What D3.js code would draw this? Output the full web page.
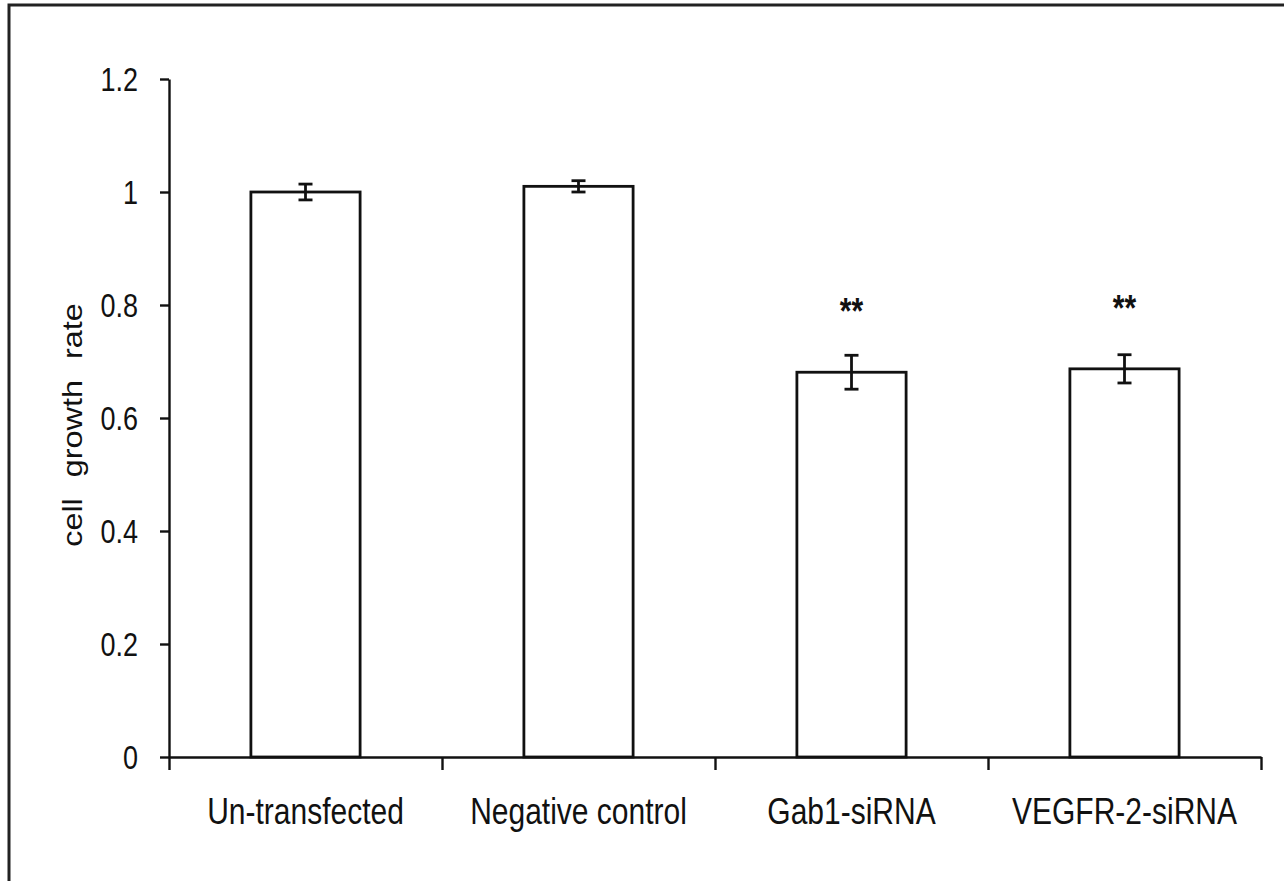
<!DOCTYPE html>
<html>
<head>
<meta charset="utf-8">
<script src="https://cdn.jsdelivr.net/npm/d3@7"></script>
<style>
  body { margin: 0; background: #fff; }
  svg { display: block; }
  text { font-family: "Liberation Sans", Arial, sans-serif; fill: #111; }
</style>
</head>
<body>
<svg id="chart" width="1284" height="881"></svg>
<script>
// data
var categories = ['Un-transfected', 'Negative control', 'Gab1-siRNA', 'VEGFR-2-siRNA'];
var means = [1.0, 1.01, 0.681, 0.687];
var errors = [0.014, 0.01, 0.03, 0.025];
var marks = ['', '', '**', '**'];
var yTicks = [0, 0.2, 0.4, 0.6, 0.8, 1, 1.2];

var svg = d3.select('#chart');
// plot area ("top" would clash with window.top)
var plotLeft = 169, plotRight = 1261, plotTop = 79, plotBottom = 757;
var stretch = 1.2;   // the source picture is stretched vertically

var x = d3.scaleBand().domain(categories).range([plotLeft, plotRight]).paddingInner(0.6).paddingOuter(0.3);
var xEdge = d3.scaleLinear().domain([0, categories.length]).range([plotLeft, plotRight]);
var y = d3.scaleLinear().domain([0, 1.2]).range([plotBottom, plotTop]);

// frame round the figure (only top and left show)
svg.append('path')
    .attr('d', 'M9,884V5H1290')
    .attr('fill', 'none')
    .attr('stroke', '#222')
    .attr('stroke-width', 3);

// bars
svg.append('g').selectAll('rect')
    .data(categories)
    .join('rect')
    .attr('x', function(d) { return x(d); })
    .attr('y', function(d, i) { return y(means[i]); })
    .attr('width', x.bandwidth())
    .attr('height', function(d, i) { return plotBottom - y(means[i]); })
    .attr('fill', '#fff')
    .attr('stroke', '#111')
    .attr('stroke-width', 2.8);

// error bars
var eg = svg.append('g').attr('stroke', '#111').attr('stroke-width', 2.8);
categories.forEach(function(c, i) {
    var cx = x(c) + x.bandwidth() / 2;
    var y0 = y(means[i] - errors[i]), y1 = y(means[i] + errors[i]);
    eg.append('line').attr('x1', cx).attr('x2', cx).attr('y1', y0).attr('y2', y1);
    eg.append('line').attr('x1', cx - 7).attr('x2', cx + 7).attr('y1', y0).attr('y2', y0);
    eg.append('line').attr('x1', cx - 7).attr('x2', cx + 7).attr('y1', y1).attr('y2', y1);
});

// significance stars
svg.append('g').selectAll('text')
    .data(categories)
    .join('text')
    .attr('transform', function(d, i) {
        return 'translate(' + (x(d) + x.bandwidth() / 2) + ',' + (y(means[i] + 0.122) + 21) + ') scale(1,' + stretch + ')';
    })
    .attr('text-anchor', 'middle')
    .style('font-size', '30px')
    .style('font-weight', 'bold')
    .text(function(d, i) { return marks[i]; });

// y axis
var yAxis = svg.append('g')
    .attr('transform', 'translate(' + plotLeft + ',0)')
    .call(d3.axisLeft(y).tickValues(yTicks).tickSize(9).tickSizeOuter(0).tickFormat(''));
yAxis.selectAll('path, line').attr('stroke', '#111').attr('stroke-width', 2.4);

svg.append('g').selectAll('text')
    .data(yTicks)
    .join('text')
    .attr('transform', function(d) { return 'translate(138,' + y(d) + ') scale(1,' + stretch + ')'; })
    .attr('text-anchor', 'end')
    .attr('dy', '0.36em')
    .style('font-size', '27px')
    .text(function(d) { return String(d); });

// x axis, ticks sit between the groups
var xAxis = svg.append('g')
    .attr('transform', 'translate(0,' + plotBottom + ')')
    .call(d3.axisBottom(xEdge).tickValues(d3.range(categories.length + 1)).tickSize(13).tickSizeOuter(0).tickFormat(''));
xAxis.selectAll('path, line').attr('stroke', '#111').attr('stroke-width', 2.4);

svg.append('g').selectAll('text')
    .data(categories)
    .join('text')
    .attr('transform', function(d) { return 'translate(' + (x(d) + x.bandwidth() / 2) + ',824) scale(1,' + stretch + ')'; })
    .attr('text-anchor', 'middle')
    .style('font-size', '30px')
    .text(function(d) { return d; });

// y axis title
svg.append('text')
    .attr('transform', 'translate(82,425) rotate(-90) scale(' + stretch + ',1)')
    .attr('text-anchor', 'middle')
    .style('font-size', '27px')
    .style('word-spacing', '10px')
    .text('cell growth rate');
</script>
</body>
</html>
